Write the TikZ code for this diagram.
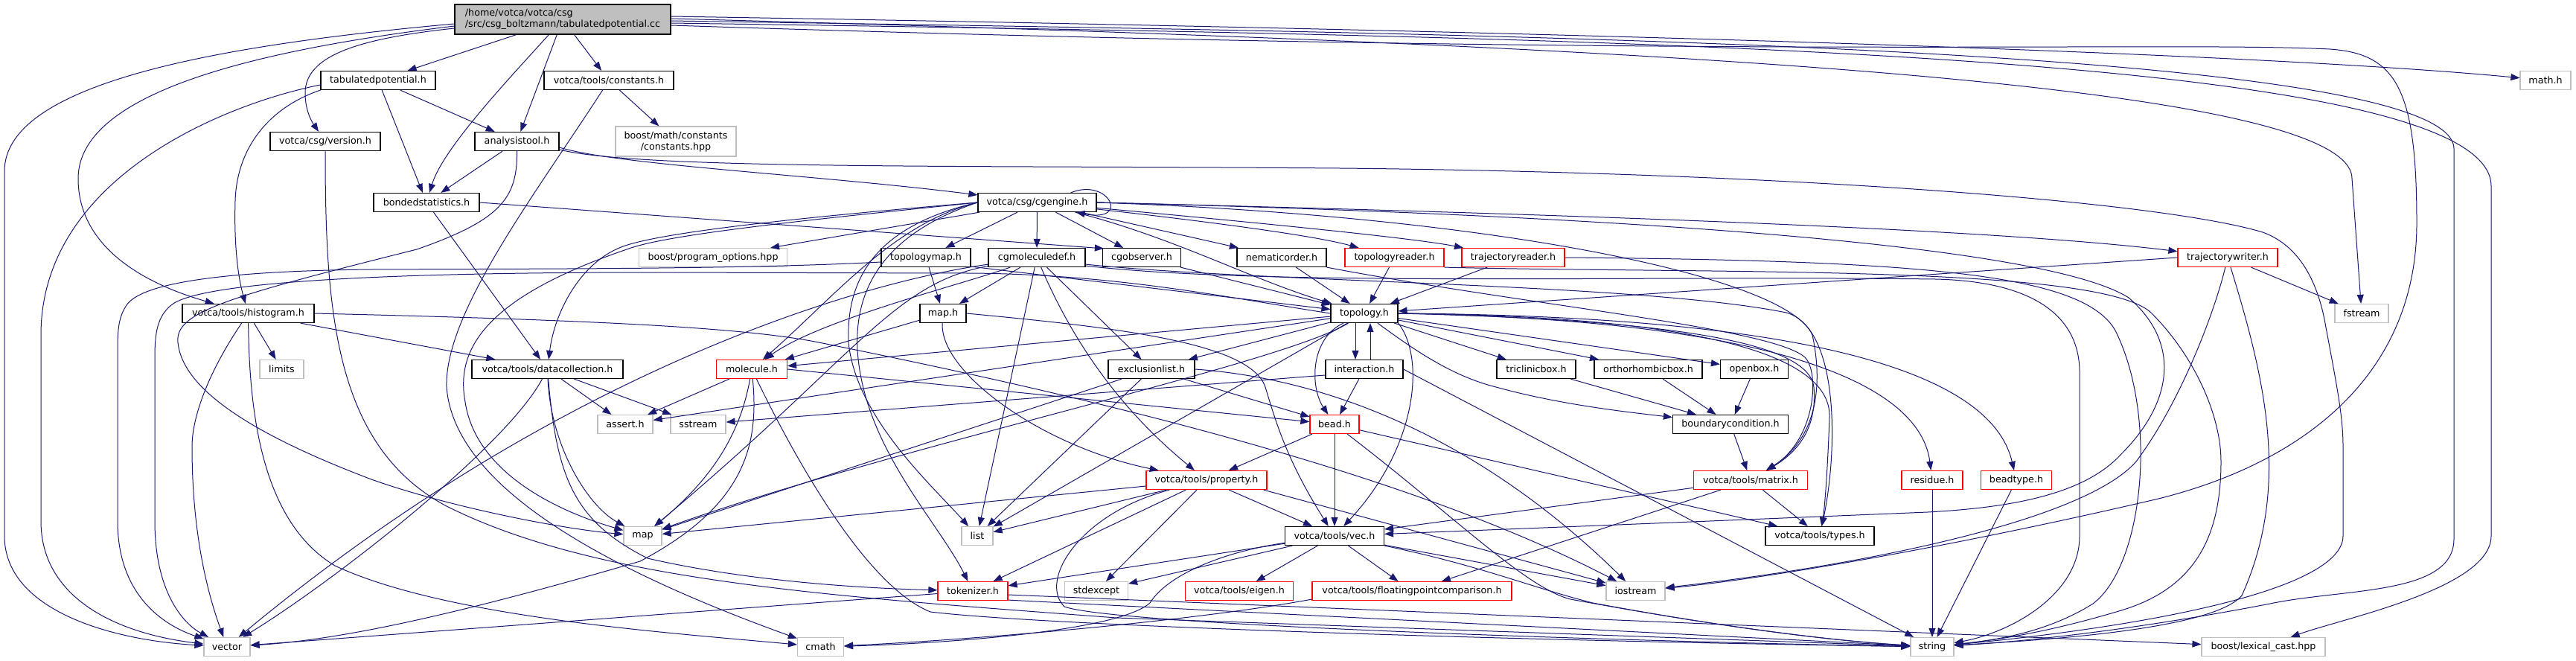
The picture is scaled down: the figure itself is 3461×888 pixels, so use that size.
\documentclass[tikz,border=0pt]{standalone}
\usepackage{fontspec}
\setmainfont{DejaVu Sans}
\usetikzlibrary{arrows.meta,calc}
\definecolor{edgec}{HTML}{191970}
\definecolor{extgray}{HTML}{BFBFBF}
\definecolor{rootgray}{HTML}{BFBFBF}
\definecolor{redb}{HTML}{FF0000}
\newcommand\nodefnt{\fontsize{12.7}{15}\selectfont}
\begin{document}
\begin{tikzpicture}[x=1pt,y=-1pt,
  nb/.style={draw, line width=1.2pt, inner sep=0pt, minimum height=25pt, font=\nodefnt, text=black},
  blk/.style={nb, draw=black},
  rd/.style={nb, draw=redb},
  ext/.style={nb, draw=extgray},
  edg/.style={draw=edgec, line width=1.0pt, -{Triangle[length=12pt,width=9pt]}}]
\useasboundingbox (0,0) rectangle (3461,888);
\fill[white] (0,0) rectangle (3461,888);
% ---------- nodes ----------
\node[blk, fill=rootgray, minimum width=290pt, minimum height=40pt, align=left] (root) at (756,26) {/home/votca/votca/csg\\/src/csg\_boltzmann/tabulatedpotential.cc};
\node[blk, minimum width=154pt] (tab) at (508,108) {tabulatedpotential.h};
\node[blk, minimum width=174pt] (constants) at (818,108) {votca/tools/constants.h};
\node[ext, minimum width=68pt] (mathh) at (3420,108) {math.h};
\node[blk, minimum width=148pt] (version) at (437,190) {votca/csg/version.h};
\node[blk, minimum width=113pt] (analysis) at (694.5,190) {analysistool.h};
\node[ext, minimum width=162pt, minimum height=40pt, align=center] (boostmath) at (908,190) {boost/math/constants\\/constants.hpp};
\node[blk, minimum width=142pt] (bonded) at (573,272) {bondedstatistics.h};
\node[blk, minimum width=159pt] (cgengine) at (1393.5,272) {votca/csg/cgengine.h};
\node[ext, minimum width=199pt] (progopt) at (958,346) {boost/program\_options.hpp};
\node[blk, minimum width=120pt] (topomap) at (1244,346) {topologymap.h};
\node[blk, minimum width=130pt] (cgmol) at (1393,346) {cgmoleculedef.h};
\node[blk, minimum width=105pt] (cgobs) at (1534,346) {cgobserver.h};
\node[blk, minimum width=120pt] (nematic) at (1722,346) {nematicorder.h};
\node[rd, minimum width=133pt] (toporeader) at (1873.5,346) {topologyreader.h};
\node[rd, minimum width=138pt] (trajreader) at (2033,346) {trajectoryreader.h};
\node[rd, minimum width=134pt] (trajwriter) at (2993,346) {trajectorywriter.h};
\node[blk, minimum width=177pt] (histogram) at (333.5,421) {votca/tools/histogram.h};
\node[blk, minimum width=62pt] (maph) at (1267,421) {map.h};
\node[blk, minimum width=90pt] (topology) at (1833,421) {topology.h};
\node[ext, minimum width=72pt] (fstream) at (3173,421) {fstream};
\node[ext, minimum width=59pt] (limits) at (378.5,496) {limits};
\node[blk, minimum width=203pt] (datacoll) at (735.5,496) {votca/tools/datacollection.h};
\node[rd, minimum width=95pt] (molecule) at (1010,496) {molecule.h};
\node[blk, minimum width=116pt] (exclusion) at (1547,496) {exclusionlist.h};
\node[blk, minimum width=104pt] (interaction) at (1833,496) {interaction.h};
\node[blk, minimum width=106pt] (triclinic) at (2064,496) {triclinicbox.h};
\node[blk, minimum width=145pt] (ortho) at (2214.5,496) {orthorhombicbox.h};
\node[blk, minimum width=91pt] (openbox) at (2357,496) {openbox.h};
\node[ext, minimum width=74pt] (asserth) at (840,570) {assert.h};
\node[ext, minimum width=74pt] (sstream) at (938,570) {sstream};
\node[rd, minimum width=66pt] (bead) at (1793,570) {bead.h};
\node[blk, minimum width=155pt] (boundary) at (2325,570) {boundarycondition.h};
\node[rd, minimum width=162pt] (property) at (1621,645) {votca/tools/property.h};
\node[rd, minimum width=153pt] (matrix) at (2352,645) {votca/tools/matrix.h};
\node[rd, minimum width=82pt] (residue) at (2596,645) {residue.h};
\node[rd, minimum width=95pt] (beadtype) at (2709,645) {beadtype.h};
\node[ext, minimum width=51pt] (mapstd) at (863.5,720) {map};
\node[ext, minimum width=42pt] (list) at (1313,720) {list};
\node[blk, minimum width=133pt] (vec) at (1793,720) {votca/tools/vec.h};
\node[blk, minimum width=146pt] (types) at (2445,720) {votca/tools/types.h};
\node[rd, minimum width=94pt] (tokenizer) at (1307,794) {tokenizer.h};
\node[ext, minimum width=85pt] (stdexcept) at (1473,794) {stdexcept};
\node[rd, minimum width=145pt] (eigen) at (1665,794) {votca/tools/eigen.h};
\node[rd, minimum width=268pt] (floatcmp) at (1897,794) {votca/tools/floatingpointcomparison.h};
\node[ext, minimum width=79pt] (iostream) at (2197.5,794) {iostream};
\node[ext, minimum width=62pt] (vector) at (305,869) {vector};
\node[ext, minimum width=62pt] (cmath) at (1102.5,869) {cmath};
\node[ext, minimum width=58pt] (string) at (2596,869) {string};
\node[ext, minimum width=166pt] (lexical) at (3041,869) {boost/lexical\_cast.hpp};
% ---------- edges: root ----------
\draw[edg] (root) -- (tab);
\draw[edg] (root) .. controls (680,110) and (595,200) .. (bonded);
\draw[edg] (root) -- (analysis);
\draw[edg] (root) -- (constants);
\draw[edg] ($(root.west)+(0,12)$) .. controls (480,52) and (410,75) .. (410,125) .. controls (410,150) and (420,165) .. (version);
\draw[edg] ($(root.west)+(0,9)$) .. controls (320,70) and (105,130) .. (105,240) .. controls (105,330) and (190,380) .. (histogram);
\draw[edg] ($(root.west)+(0,6)$) .. controls (300,60) and (6,110) .. (6,230) -- (6,720) .. controls (6,820) and (150,860) .. (vector);
\draw[edg] ($(root.east)+(0,-4)$) .. controls (2000,40) and (3000,68) .. (mathh);
\draw[edg] ($(root.east)+(0,-1)$) .. controls (2200,60) and (3160,110) .. (3160,240) -- (fstream);
\draw[edg] ($(root.east)+(0,2)$) .. controls (2000,45) and (3297,60) .. (3297,200) -- (3297,724) .. controls (3297,800) and (3150,790) .. (3050,811) .. controls (2900,840) and (2750,860) .. (string);
\draw[edg] ($(root.east)+(0,5)$) .. controls (2200,50) and (3347,70) .. (3347,250) -- (3347,720) .. controls (3347,790) and (3150,830) .. (lexical);
\draw[edg] ($(root.east)+(0,8)$) .. controls (2300,80) and (2900,55) .. (3130,66) .. controls (3220,72) and (3247,120) .. (3247,300) .. controls (3247,500) and (3100,620) .. (2900,670) .. controls (2600,740) and (2350,780) .. (iostream);
% tab
\draw[edg] ($(tab.west)+(0,6)$) .. controls (300,140) and (55,240) .. (55,450) -- (55,700) .. controls (55,800) and (150,850) .. (vector);
\draw[edg] (tab.south west) .. controls (360,145) and (318,200) .. (316,270) .. controls (314,340) and (322,380) .. (histogram);
\draw[edg] (tab) -- (bonded);
\draw[edg] (tab) -- (analysis);
% version
\draw[edg] (version) .. controls (437,420) and (450,600) .. (600,680) .. controls (800,780) and (1100,800) .. (1500,830) -- (string);
% analysis
\draw[edg] (analysis) -- (bonded);
\draw[edg] ($(analysis.east)+(0,8)$) .. controls (830,222) and (1100,235) .. (cgengine);
\draw[edg] ($(analysis.east)+(0,11)$) .. controls (860,228) and (1300,222) .. (1800,226) .. controls (2400,232) and (2900,270) .. (3040,312) .. controls (3090,330) and (3115,380) .. (3125,440) .. controls (3140,520) and (3148,560) .. (3148,600) -- (3148,720) .. controls (3148,790) and (2900,840) .. (string);
\draw[edg] (analysis) .. controls (695,265) and (675,295) .. (560,335) .. controls (300,400) and (235,420) .. (239,460) .. controls (245,520) and (330,580) .. (499,644) .. controls (600,680) and (750,710) .. (mapstd);
% constants
\draw[edg] (constants) -- (boostmath);
\draw[edg] (constants) .. controls (720,260) and (597,420) .. (600,520) .. controls (610,650) and (800,760) .. (cmath);
% bonded
\draw[edg] (bonded.east) -- ($(cgobs.north west)+(2,1)$);
\draw[edg] (bonded) -- (datacoll);
% cgengine
\draw[edg] ($(cgengine.north east)+(-35,0)$) .. controls (1490,238) and (1520,300) .. ($(cgengine.south east)+(-28,0)$);
\draw[edg] (cgengine) -- (progopt);
\draw[edg] (cgengine) -- (topomap);
\draw[edg] (cgengine) -- (cgmol);
\draw[edg] (cgengine) -- (cgobs);
\draw[edg] (cgengine) -- (nematic);
\draw[edg] (cgengine) .. controls (1600,295) and (1760,315) .. (toporeader);
\draw[edg] (cgengine) .. controls (1700,300) and (1900,320) .. (trajreader);
\draw[edg] (cgengine.east) .. controls (2200,290) and (2700,310) .. (trajwriter);
\draw[edg] (cgengine) .. controls (1580,320) and (1680,375) .. (topology);
\draw[edg] (cgengine.west) .. controls (1100,290) and (900,310) .. (840,330) .. controls (780,350) and (745,420) .. (datacoll);
\draw[edg] (cgengine.west) .. controls (1100,294) and (900,314) .. (845,334) .. controls (650,400) and (612,470) .. (625,540) .. controls (640,640) and (760,690) .. (mapstd);
\draw[edg] (cgengine.west) .. controls (1170,305) and (1137,380) .. (1140,460) .. controls (1150,560) and (1250,650) .. (list);
\draw[edg] (cgengine.west) .. controls (1185,315) and (1148,390) .. (1152,470) .. controls (1160,600) and (1260,700) .. (tokenizer);
\draw[edg] (cgengine.west) .. controls (1200,300) and (1120,400) .. (molecule);
\draw[edg] (cgengine.east) .. controls (2200,290) and (2750,330) .. (2860,400) .. controls (2930,460) and (2920,540) .. (2850,610) .. controls (2800,665) and (2700,682) .. (2590,688) .. controls (2300,700) and (2000,712) .. (vec);
\draw[edg] (cgengine.east) .. controls (2000,290) and (2400,370) .. (2435,450) .. controls (2450,520) and (2440,590) .. (matrix);
% topomap
\draw[edg] (topomap) -- (maph);
\draw[edg] ($(topomap.south east)+(0,-1)$) -- (topology);
\draw[edg] ($(topomap.west)+(0,6)$) .. controls (1000,362) and (700,361) .. (500,362) .. controls (300,364) and (190,380) .. (170,410) .. controls (160,425) and (158,440) .. (158,470) -- (158,700) .. controls (158,800) and (220,840) .. (vector);
% cgmol
\draw[edg] (cgmol) -- (maph);
\draw[edg] (cgmol) -- (list);
\draw[edg] (cgmol) .. controls (1425,420) and (1480,530) .. (property);
\draw[edg] (cgmol) -- (exclusion);
\draw[edg] (cgmol) .. controls (1300,380) and (1100,430) .. (molecule);
\draw[edg] (cgmol) .. controls (1200,380) and (1150,480) .. (mapstd);
\draw[edg] (cgmol) .. controls (1150,380) and (750,500) .. (vector);
\draw[edg] ($(cgmol.south east)+(0,-4)$) .. controls (1700,380) and (2200,380) .. (2400,420) .. controls (2470,440) and (2470,600) .. (types);
\draw[edg] ($(cgmol.south east)+(0,-2)$) .. controls (1700,385) and (2200,370) .. (2600,375) .. controls (2740,378) and (2794,430) .. (2794,500) -- (2794,720) .. controls (2794,800) and (2700,850) .. (string);
% cgobs, nematic, readers, writer
\draw[edg] (cgobs) -- (topology);
\draw[edg] (nematic) -- (topology);
\draw[edg] (nematic.south east) .. controls (2050,410) and (2380,440) .. (2425,480) .. controls (2445,500) and (2440,590) .. (matrix);
\draw[edg] (toporeader) -- (topology);
\draw[edg] (toporeader.south east) .. controls (2300,368) and (2820,355) .. (2890,420) .. controls (2950,480) and (2984,560) .. (2984,620) .. controls (2984,720) and (2950,790) .. (2850,820) .. controls (2750,850) and (2680,860) .. (string);
\draw[edg] (trajreader) -- (topology);
\draw[edg] (trajreader.east) .. controls (2600,350) and (2800,370) .. (2842,444) .. controls (2900,560) and (2880,760) .. (2812,811) .. controls (2750,850) and (2680,860) .. (string);
\draw[edg] (trajwriter.west) -- (topology);
\draw[edg] (trajwriter) -- (fstream);
\draw[edg] (trajwriter) .. controls (2975,420) and (2930,540) .. (2870,620) .. controls (2800,700) and (2500,760) .. (iostream);
\draw[edg] (trajwriter) .. controls (3040,500) and (3080,650) .. (3012,800) .. controls (2970,850) and (2700,862) .. (string);
% histogram
\draw[edg] (histogram) -- (limits);
\draw[edg] (histogram) -- (datacoll);
\draw[edg] (histogram) .. controls (280,500) and (258,560) .. (258,600) .. controls (258,720) and (280,800) .. (vector);
\draw[edg] (histogram) .. controls (335,550) and (350,700) .. (450,760) .. controls (600,830) and (900,850) .. (cmath);
\draw[edg] (histogram.east) .. controls (800,430) and (1000,440) .. (1100,460) .. controls (1500,540) and (1900,640) .. (iostream);
% map.h
\draw[edg] (maph) -- (molecule);
\draw[edg] (maph) .. controls (1262,500) and (1400,600) .. (property);
\draw[edg] (maph.east) .. controls (1500,440) and (1680,460) .. (1700,520) .. controls (1715,570) and (1730,620) .. (vec);
% topology
\draw[edg] ($(topology.south)+(-12,0)$) -- ($(interaction.north)+(-12,0)$);
\draw[edg] ($(interaction.north)+(8,0)$) -- ($(topology.south)+(8,0)$);
\draw[edg] (topology) .. controls (1760,455) and (1760,520) .. (bead);
\draw[edg] (topology.south east) .. controls (1915,480) and (1905,600) .. (vec);
\draw[edg] (topology) -- (triclinic);
\draw[edg] (topology) -- (ortho);
\draw[edg] (topology) -- (openbox);
\draw[edg] (topology) .. controls (1900,470) and (1950,505) .. (2010,520) .. controls (2100,545) and (2200,555) .. (boundary);
\draw[edg] (topology.east) .. controls (2250,430) and (2430,460) .. (2437,520) .. controls (2442,580) and (2410,610) .. (matrix);
\draw[edg] (topology.east) .. controls (2300,425) and (2460,480) .. (2458,560) .. controls (2456,620) and (2452,680) .. (types);
\draw[edg] (topology.east) .. controls (2400,430) and (2580,520) .. (residue);
\draw[edg] (topology.east) .. controls (2500,425) and (2680,520) .. (beadtype);
\draw[edg] (topology) -- (exclusion);
\draw[edg] (topology) -- (molecule);
\draw[edg] (topology) -- (list);
\draw[edg] (topology) .. controls (1720,490) and (1200,600) .. (mapstd);
\draw[edg] (topology) -- (asserth);
\draw[edg] (topology.west) .. controls (1650,400) and (1500,368) .. (1300,367) -- (870,366) .. controls (500,366) and (265,380) .. (230,410) .. controls (212,425) and (208,445) .. (208,480) -- (208,700) .. controls (208,800) and (250,840) .. (vector);
% interaction
\draw[edg] (interaction) -- (bead);
\draw[edg] ($(interaction.west)+(0,8)$) -- (sstream);
\draw[edg] (interaction.east) -- (string);
% exclusion
\draw[edg] (exclusion) -- (mapstd);
\draw[edg] (exclusion) -- (list);
\draw[edg] (exclusion) -- (bead);
\draw[edg] (exclusion.east) .. controls (1800,510) and (2000,600) .. (iostream);
% molecule
\draw[edg] (molecule) -- (asserth);
\draw[edg] (molecule) .. controls (995,580) and (960,640) .. (mapstd);
\draw[edg] (molecule) .. controls (1020,600) and (1000,680) .. (860,754) .. controls (600,830) and (450,860) .. (vector);
\draw[edg] (molecule) .. controls (1080,640) and (1170,790) .. (1250,822) .. controls (1400,840) and (2000,860) .. (string);
\draw[edg] (molecule.east) -- (bead);
% datacollection
\draw[edg] (datacoll) .. controls (680,600) and (450,780) .. (vector);
\draw[edg] (datacoll) .. controls (740,600) and (790,680) .. (mapstd);
\draw[edg] (datacoll) -- (asserth);
\draw[edg] (datacoll) -- (sstream);
\draw[edg] (datacoll) .. controls (748,640) and (770,700) .. (870,750) .. controls (1000,780) and (1150,790) .. (tokenizer);
% bead
\draw[edg] (bead) -- (vec);
\draw[edg] (bead) .. controls (1950,690) and (2050,790) .. (2110,805) .. controls (2300,840) and (2450,860) .. (string);
\draw[edg] (bead) -- (types);
\draw[edg] (bead) -- (property);
% boxes
\draw[edg] (triclinic) -- (boundary);
\draw[edg] (ortho) -- (boundary);
\draw[edg] (openbox) -- (boundary);
\draw[edg] (boundary) -- (matrix);
% property
\draw[edg] (property) -- (mapstd);
\draw[edg] (property) -- (list);
\draw[edg] (property) -- (tokenizer);
\draw[edg] (property) -- (stdexcept);
\draw[edg] (property) .. controls (1450,690) and (1395,780) .. (1430,815) .. controls (1500,840) and (2200,862) .. (string);
\draw[edg] (property) -- (vec);
\draw[edg] ($(property.south east)+(-5,0)$) -- (iostream);
% matrix
\draw[edg] (matrix) -- (vec);
\draw[edg] (matrix) -- (types);
\draw[edg] (matrix) -- (floatcmp);
% vec
\draw[edg] (vec) -- (tokenizer);
\draw[edg] (vec) -- (stdexcept);
\draw[edg] (vec) -- (eigen);
\draw[edg] (vec) .. controls (1650,740) and (1570,770) .. (1545,810) .. controls (1500,850) and (1250,865) .. (cmath);
\draw[edg] (vec) -- (floatcmp);
\draw[edg] (vec) -- (iostream);
\draw[edg] (vec.south east) .. controls (1990,760) and (2060,790) .. (2140,810) .. controls (2300,840) and (2450,860) .. (string);
% tokenizer, floatcmp, residue, beadtype
\draw[edg] (tokenizer) -- (vector);
\draw[edg] ($(tokenizer.south east)+(0,-1)$) -- (string);
\draw[edg] ($(tokenizer.east)+(0,5)$) -- (lexical);
\draw[edg] ($(floatcmp.south west)+(0,-2)$) .. controls (1600,835) and (1300,860) .. (cmath);
\draw[edg] (residue) -- (string);
\draw[edg] (beadtype) -- (string);
\end{tikzpicture}
\end{document}
